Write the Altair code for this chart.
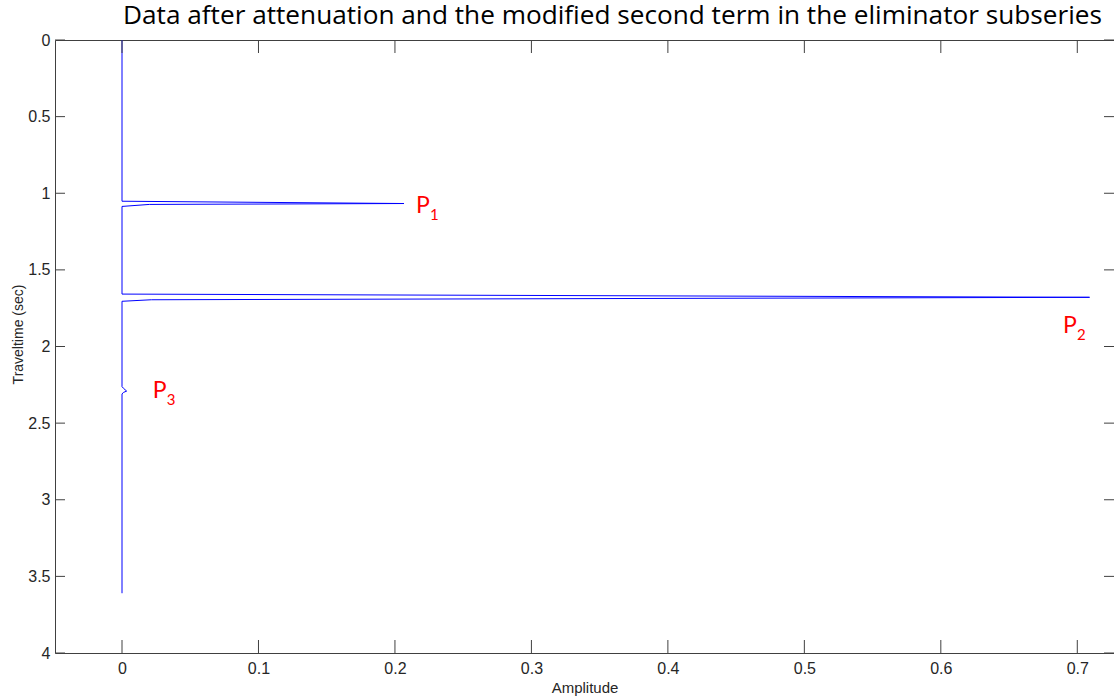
import altair as alt
import pandas as pd

# ---- data ----
# trace path: amplitude vs traveltime (sec)
amp = [0, 0, 0.2066, 0.020, 0, 0, 0.709, 0.0215, 0, 0, 0.001, 0.0034, 0.001, 0, 0]
time = [0, 1.052, 1.067, 1.073, 1.086, 1.658, 1.679, 1.695, 1.705, 2.262, 2.272, 2.291, 2.300, 2.310, 3.61]

x_ticks = [0, 0.1, 0.2, 0.3, 0.4, 0.5, 0.6, 0.7]
y_ticks = [0, 0.5, 1, 1.5, 2, 2.5, 3, 3.5, 4]

label_main = ["P", "P", "P"]
label_sub = ["1", "2", "3"]
label_amp = [0.2154, 0.6895, 0.0225]
label_time = [1.130, 1.912, 2.337]

x_domain = [-0.0491, 0.7269]
y_domain = [0, 4]

title_text = "Data after attenuation and the modified second term  in the eliminator subseries"

# ---- layout ----
W, H = 1059, 613
LEFT, TOP, BOTTOM = 55, 40, 45
NARROW = "Liberation Sans Narrow, Arial Narrow, Liberation Sans, sans-serif"
AXC = "#404040"
TXT = "#262626"

xscale = alt.Scale(domain=x_domain, nice=False, zero=False)
yscale = alt.Scale(domain=y_domain, reverse=True, nice=False, zero=False)

trace_df = pd.DataFrame({"i": list(range(len(amp))), "amp": amp, "time": time})
xt_df = pd.DataFrame({"v": x_ticks})
yt_df = pd.DataFrame({"v": y_ticks})
lab_df = pd.DataFrame({"main": label_main, "sub": label_sub, "amp": label_amp, "time": label_time})

trace = alt.Chart(trace_df).mark_line(color="#0000ff", strokeWidth=1).encode(
    x=alt.X("amp:Q", scale=xscale, axis=alt.Axis(
        orient="bottom", values=x_ticks, format="~g", title="Amplitude", grid=False,
        ticks=False, tickSize=0, labelPadding=20, labelBaseline="alphabetic",
        labelFlush=False, labelFont=NARROW, labelFontSize=16, labelColor=TXT,
        domainColor=AXC, domainWidth=1,
        titleFont=NARROW, titleFontSize=15,
        titleFontWeight="normal", titleColor=TXT,
        titleBaseline="alphabetic", titleY=39, titleAlign="center")),
    y=alt.Y("time:Q", scale=yscale, axis=alt.Axis(
        orient="left", values=y_ticks, format="~g", title="Traveltime (sec)", grid=False,
        ticks=False, tickSize=0, labelPadding=5, labelBaseline="middle",
        labelAlign="right", labelFont=NARROW, labelFontSize=16, labelColor=TXT,
        domainColor=AXC, domainWidth=1,
        titleFont="Liberation Sans", titleFontSize=14,
        titleFontWeight="normal", titleColor=TXT, titleAngle=270,
        titleAlign="center", titleBaseline="middle", titleX=-36.5, titleY=294)),
    order=alt.Order("i:Q"),
)

top_ticks = alt.Chart(xt_df).mark_rule(color=AXC, strokeWidth=1).encode(
    x=alt.X("v:Q", scale=xscale, axis=alt.Axis(orient="top", labels=False, ticks=False, grid=False,
                                                 tickSize=0, title=None, domain=True,
                                                 domainColor=AXC, domainWidth=1)),
    y=alt.value(0), y2=alt.value(13),
)
bottom_ticks = alt.Chart(xt_df).mark_rule(color=AXC, strokeWidth=1).encode(
    x=alt.X("v:Q", scale=xscale, axis=None),
    y=alt.value(H - 13), y2=alt.value(H),
)
left_ticks = alt.Chart(yt_df).mark_rule(color=AXC, strokeWidth=1).encode(
    y=alt.Y("v:Q", scale=yscale, axis=None),
    x=alt.value(0), x2=alt.value(10),
)
right_ticks = alt.Chart(yt_df).mark_rule(color=AXC, strokeWidth=1).encode(
    y=alt.Y("v:Q", scale=yscale, axis=None),
    x=alt.value(W - 10), x2=alt.value(W),
)

p_text = alt.Chart(lab_df).mark_text(
    align="left", baseline="alphabetic", font="Lato", fontSize=23, color="#ff0000"
).encode(
    x=alt.X("amp:Q", scale=xscale, axis=None),
    y=alt.Y("time:Q", scale=yscale, axis=None),
    text="main:N",
)
sub_text = alt.Chart(lab_df).mark_text(
    align="left", baseline="alphabetic", font="Lato", fontSize=15, color="#ff0000", dx=14, dy=7
).encode(
    x=alt.X("amp:Q", scale=xscale, axis=None),
    y=alt.Y("time:Q", scale=yscale, axis=None),
    text="sub:N",
)

chart = alt.layer(
    trace, top_ticks, bottom_ticks, left_ticks, right_ticks, p_text, sub_text
).resolve_axis(
    x="independent", y="independent"
).properties(
    width=W, height=H,
    background="white",
    title=alt.TitleParams(
        text=title_text, font="Open Sans", fontSize=26.2, fontWeight="normal",
        color="#000000", anchor="middle", frame="group", dx=28, dy=26,
        baseline="alphabetic", offset=8),
    autosize=alt.AutoSizeParams(type="none"),
    padding={"left": LEFT, "top": TOP, "right": 0, "bottom": BOTTOM},
).configure_view(
    stroke=None
).configure_axis(
    grid=False
)

chart.save("out.html", embed_options={"renderer": "svg", "actions": False})
